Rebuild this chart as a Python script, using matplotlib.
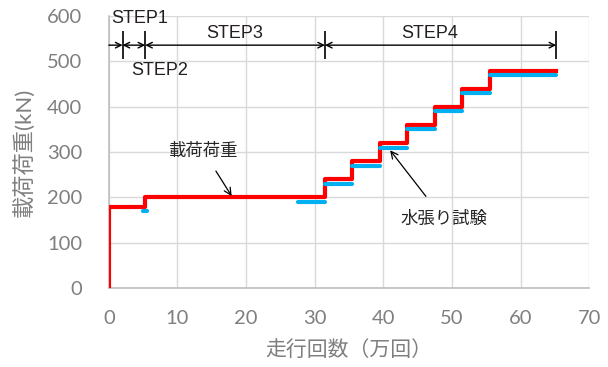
import matplotlib.pyplot as plt

plt.rcParams['font.family'] = ['Lato', 'Noto Sans CJK JP', 'DejaVu Sans']
plt.rcParams['xtick.major.pad'] = 16
plt.rcParams['ytick.major.pad'] = 19

# load program (red step line)
load_x = [0, 0, 5.3, 31.5, 35.5, 39.5, 43.5, 47.5, 51.5, 55.5, 65.2]
load_y = [0, 180, 200, 240, 280, 320, 360, 400, 440, 480, 480]

# water-filled tests (blue segments)
water_start = [5.0, 27.5, 31.5, 35.5, 39.5, 43.5, 47.5, 51.5, 55.5]
water_end = [5.5, 31.5, 35.5, 39.5, 43.5, 47.5, 51.5, 55.5, 65.2]
water_load = [170, 190, 230, 270, 310, 350, 390, 430, 470]

# step boundaries
step_marks = [2.0, 5.3, 31.5, 65.2]
step_names = ['STEP1', 'STEP2', 'STEP3', 'STEP4']
step_text_x = [4.5, 7.4, 18.4, 46.8]
step_text_y = [595, 481, 562, 562]

gray = '#7f7f7f'

fig = plt.figure(figsize=(6.08, 3.67), dpi=100)
ax = fig.add_axes([0.179, 0.215, 0.79, 0.741])

ax.plot(load_x, load_y, drawstyle='steps-post', color='#ff0000', lw=3.0, zorder=3)
wl = ax.hlines(water_load, water_start, water_end, color='#00b0f0', lw=3.0, zorder=4)
wl.set_capstyle('round')

# step dimension lines
ax.vlines(step_marks, 506, 568, color='black', lw=1.2, zorder=5)
ax.annotate('', xy=(step_marks[0], 536), xytext=(0, 536),
            arrowprops=dict(arrowstyle='->', lw=1, color='black', shrinkA=0, shrinkB=0))
for a, b in zip(step_marks[:-1], step_marks[1:]):
    ax.annotate('', xy=(b, 536), xytext=(a, 536),
                arrowprops=dict(arrowstyle='<->', lw=1, color='black', shrinkA=0, shrinkB=0))
for name, tx, ty in zip(step_names, step_text_x, step_text_y):
    ax.text(tx, ty, name, fontsize=13, family='Liberation Sans', color='#231f20',
            ha='center', va='center')

ax.annotate('載荷荷重', xy=(17.9, 203), xytext=(13.75, 303), fontsize=12.5, color='#262626',
            ha='center', va='center',
            arrowprops=dict(arrowstyle='->', lw=0.9, color='black', shrinkA=8, shrinkB=0))
ax.annotate('水張り試験', xy=(41.0, 304), xytext=(48.8, 152), fontsize=12.5, color='#262626',
            ha='center', va='center',
            arrowprops=dict(arrowstyle='->', lw=0.9, color='black', shrinkA=11, shrinkB=0))

ax.set_xlim(0, 70)
ax.set_ylim(0, 600)
ax.set_xticks(range(0, 71, 10))
ax.set_yticks(range(0, 601, 100))
ax.grid(True, color='#d9d9d9', lw=1)
ax.set_axisbelow(True)
for s in ['top', 'right']:
    ax.spines[s].set_visible(False)
for s in ['left', 'bottom']:
    ax.spines[s].set_color('#bfbfbf')
    ax.spines[s].set_linewidth(1.2)
ax.tick_params(length=0, labelsize=14.5, labelcolor=gray)

ax.set_xlabel('走行回数（万回）', fontsize=15, color=gray, labelpad=9)
ax.set_ylabel('載荷荷重(kN)', fontsize=16, color=gray, labelpad=8)

fig.savefig('out.png', dpi=100)
